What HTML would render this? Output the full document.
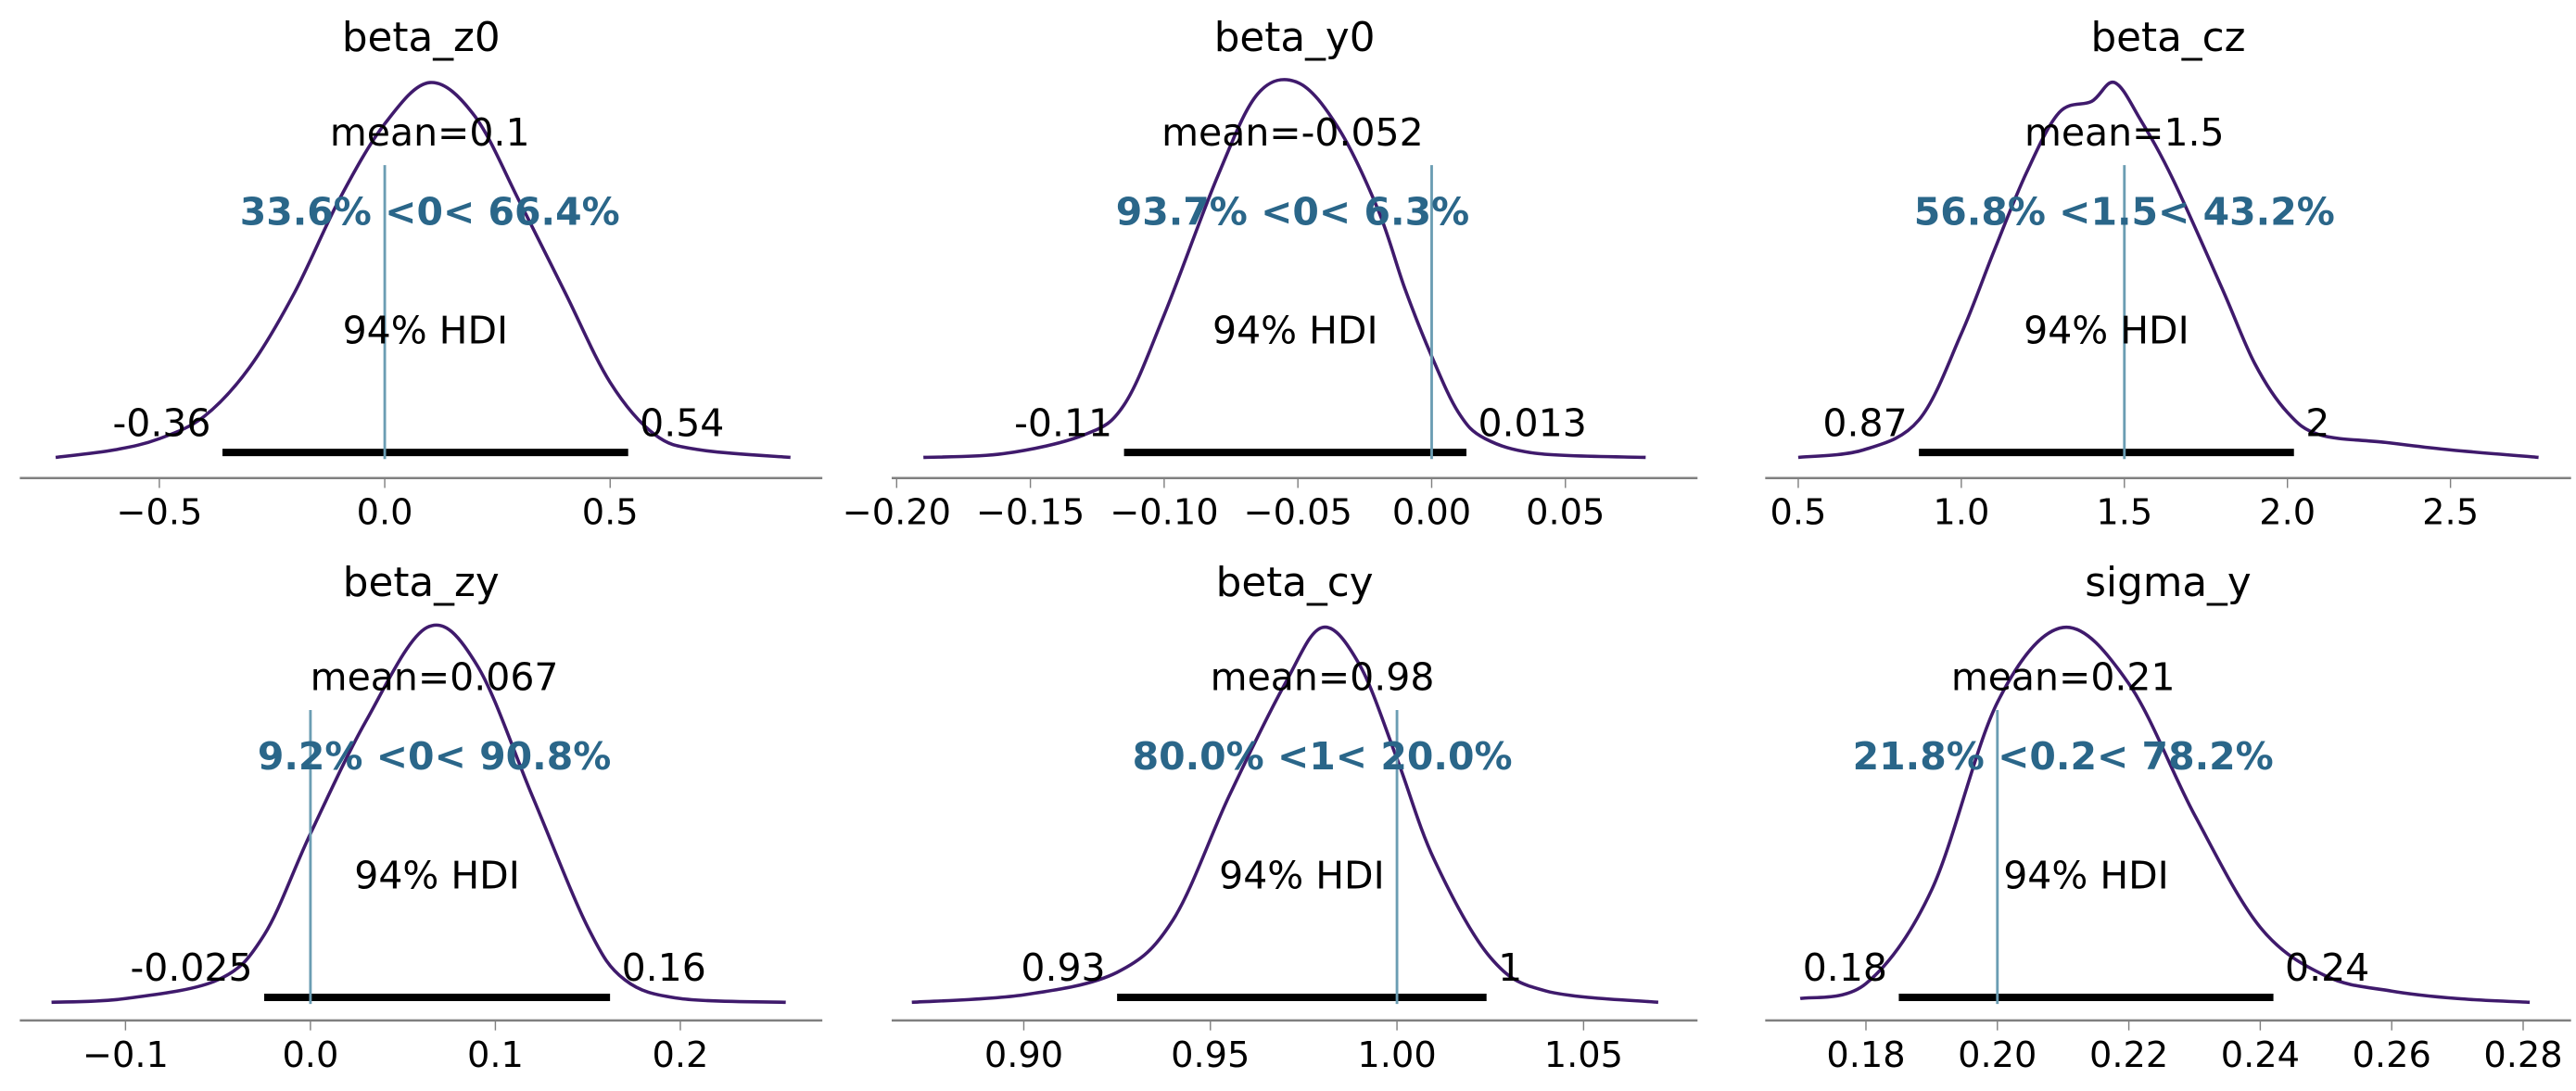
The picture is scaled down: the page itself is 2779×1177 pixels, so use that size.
<!DOCTYPE html>
<html><head><meta charset="utf-8"><style>
html,body{margin:0;padding:0;background:#fff;}
svg{display:block;font-family:"DejaVu Sans","Liberation Sans",sans-serif;}
</style></head><body>
<svg id="chart" width="2779" height="1177" viewBox="0 0 1560 660.7" xmlns="http://www.w3.org/2000/svg"></svg>
<script>
// Panel data
const titles = ["beta_z0","beta_y0","beta_cz","beta_zy","beta_cy","sigma_y"];
const meanLabels = ["mean=0.1","mean=-0.052","mean=1.5","mean=0.067","mean=0.98","mean=0.21"];
const means = [0.1,-0.052,1.5,0.067,0.98,0.21];
const refVals = [0,0,1.5,0,1,0.2];
const refLabels = ["33.6% <0< 66.4%","93.7% <0< 6.3%","56.8% <1.5< 43.2%","9.2% <0< 90.8%","80.0% <1< 20.0%","21.8% <0.2< 78.2%"];
const hdiLow = [-0.36,-0.115,0.87,-0.025,0.925,0.185];
const hdiHigh = [0.54,0.013,2.02,0.162,1.024,0.242];
const hdiLowLabels = ["-0.36","-0.11","0.87","-0.025","0.93","0.18"];
const hdiHighLabels = ["0.54","0.013","2","0.16","1","0.24"];
const ticks0 = [-0.5,0.0,0.5];
const ticks1 = [-0.20,-0.15,-0.10,-0.05,0.00,0.05];
const ticks2 = [0.5,1.0,1.5,2.0,2.5];
const ticks3 = [-0.1,0.0,0.1,0.2];
const ticks4 = [0.90,0.95,1.00,1.05];
const ticks5 = [0.18,0.20,0.22,0.24,0.26,0.28];
const tickLabels0 = ["\u22120.5","0.0","0.5"];
const tickLabels1 = ["\u22120.20","\u22120.15","\u22120.10","\u22120.05","0.00","0.05"];
const tickLabels2 = ["0.5","1.0","1.5","2.0","2.5"];
const tickLabels3 = ["\u22120.1","0.0","0.1","0.2"];
const tickLabels4 = ["0.90","0.95","1.00","1.05"];
const tickLabels5 = ["0.18","0.20","0.22","0.24","0.26","0.28"];
const kdeX0 = [-0.73,-0.6,-0.5,-0.4,-0.3,-0.2,-0.1,0.0,0.1,0.2,0.3,0.4,0.5,0.6,0.7,0.9];
const kdeY0 = [0,0.02,0.05,0.11,0.24,0.44,0.69,0.89,1.0,0.91,0.68,0.44,0.2,0.06,0.02,0];
const kdeX1 = [-0.19,-0.16,-0.13,-0.115,-0.10,-0.08,-0.065,-0.05,-0.035,-0.02,-0.01,0.0,0.01,0.02,0.04,0.08];
const kdeY1 = [0,0.01,0.06,0.14,0.38,0.75,0.97,1.0,0.88,0.66,0.45,0.27,0.12,0.05,0.01,0];
const kdeX2 = [0.5,0.7,0.87,1.0,1.1,1.2,1.3,1.4,1.47,1.55,1.65,1.8,1.9,2.0,2.1,2.3,2.5,2.77];
const kdeY2 = [0,0.02,0.1,0.33,0.55,0.76,0.92,0.95,1.0,0.9,0.74,0.45,0.25,0.12,0.06,0.04,0.02,0];
const kdeX3 = [-0.14,-0.1,-0.05,-0.025,0,0.03,0.063,0.09,0.12,0.15,0.17,0.2,0.257];
const kdeY3 = [0,0.01,0.06,0.18,0.45,0.75,1.0,0.9,0.55,0.2,0.06,0.01,0];
const kdeX4 = [0.87,0.9,0.925,0.94,0.955,0.97,0.98,0.99,1.0,1.01,1.025,1.04,1.07];
const kdeY4 = [0,0.02,0.08,0.22,0.55,0.85,1.0,0.9,0.65,0.38,0.12,0.03,0];
const kdeX5 = [0.17,0.18,0.19,0.20,0.21,0.22,0.23,0.24,0.25,0.26,0.27,0.281];
const kdeY5 = [0.01,0.05,0.3,0.8,1.0,0.85,0.5,0.2,0.07,0.03,0.01,0];

const ticks=[ticks0,ticks1,ticks2,ticks3,ticks4,ticks5];
const tickLabels=[tickLabels0,tickLabels1,tickLabels2,tickLabels3,tickLabels4,tickLabels5];
const kdeX=[kdeX0,kdeX1,kdeX2,kdeX3,kdeX4,kdeX5];
const kdeY=[kdeY0,kdeY1,kdeY2,kdeY3,kdeY4,kdeY5];

const anchors=[[0,233,0.5,369.5],[-0.2,543,0.05,948],[0.5,1089,2.5,1484],[-0.1,76,0.2,412],[0.9,620,1.05,959],[0.18,1130,0.28,1528]];
const spines=[[12,498],[540,1028],[1069,1557],[12,498],[540,1028],[1069,1557]];
const rowBase=[277,607], rowSpine=[289.5,618];

const svg=document.getElementById('chart');
const NS="http://www.w3.org/2000/svg";
function mk(tag,attrs,parent){const e=document.createElementNS(NS,tag);for(const k in attrs)e.setAttribute(k,attrs[k]);(parent||svg).appendChild(e);return e;}
function spline(pts){let d="M"+pts[0][0]+","+pts[0][1];for(let i=0;i<pts.length-1;i++){const p0=pts[Math.max(i-1,0)],p1=pts[i],p2=pts[i+1],p3=pts[Math.min(i+2,pts.length-1)];const c1x=p1[0]+(p2[0]-p0[0])/6,c1y=p1[1]+(p2[1]-p0[1])/6,c2x=p2[0]-(p3[0]-p1[0])/6,c2y=p2[1]-(p3[1]-p1[1])/6;d+=" C"+c1x+","+c1y+" "+c2x+","+c2y+" "+p2[0]+","+p2[1];}return d;}

for(let p=0;p<6;p++){
  const row=Math.floor(p/3);
  const a=anchors[p];
  const xs=v=>a[1]+(v-a[0])*(a[3]-a[1])/(a[2]-a[0]);
  const base=rowBase[row], peak=base-227;
  const ys=h=>base-h*(base-peak);
  const off=row*330;
  const g=mk('g',{});
  
  
  const t=mk('text',{x:(spines[p][0]+spines[p][1])/2,y:31+off,'text-anchor':'middle','font-size':24.5,fill:'#000'},g);
  t.textContent=titles[p];
  
  
  const sp=mk('line',{x1:spines[p][0],x2:spines[p][1],y1:rowSpine[row],y2:rowSpine[row],stroke:'#808080','stroke-width':1.4},g);
  
  
  ticks[p].forEach((v,i)=>{
    const x=xs(v);
    const tk=mk('line',{x1:x,x2:x,y1:rowSpine[row],y2:rowSpine[row]+6,stroke:'#808080','stroke-width':0.8},g);
    
    
    const tl=mk('text',{x:x,y:rowSpine[row]+28,'text-anchor':'middle','font-size':21.5,fill:'#000'},g);
    tl.textContent=tickLabels[p][i];
    
    
  });
  const pts=kdeX[p].map((v,i)=>[xs(v),ys(kdeY[p][i])]);
  const c=mk('path',{d:spline(pts),fill:'none',stroke:'#3f1a6c','stroke-width':2},g);
  
  
  const hb=mk('line',{x1:xs(hdiLow[p]),x2:xs(hdiHigh[p]),y1:base-3,y2:base-3,stroke:'#000','stroke-width':4.5},g);
  
  
  const rl=mk('line',{x1:xs(refVals[p]),x2:xs(refVals[p]),y1:base-177,y2:base+1,stroke:'#6b9db3','stroke-width':1.6},g);
  
  
  const ml=mk('text',{x:xs(means[p]),y:base-189,'text-anchor':'middle','font-size':23,fill:'#000'},g);
  ml.textContent=meanLabels[p];
  
  
  const rt=mk('text',{x:xs(means[p]),y:base-141,'text-anchor':'middle','font-size':23,'font-weight':'bold',fill:'#2a6689'},g);
  rt.textContent=refLabels[p];
  
  
  const ht=mk('text',{x:xs((hdiLow[p]+hdiHigh[p])/2),y:base-69,'text-anchor':'middle','font-size':23,fill:'#000'},g);
  ht.textContent="94% HDI";
  
  
  const lo=mk('text',{x:xs(hdiLow[p])-7,y:base-13,'text-anchor':'end','font-size':23,fill:'#000'},g);
  lo.textContent=hdiLowLabels[p];
  
  
  const hi=mk('text',{x:xs(hdiHigh[p])+7,y:base-13,'text-anchor':'start','font-size':23,fill:'#000'},g);
  hi.textContent=hdiHighLabels[p];
  
  
}
</script>
</body></html>
